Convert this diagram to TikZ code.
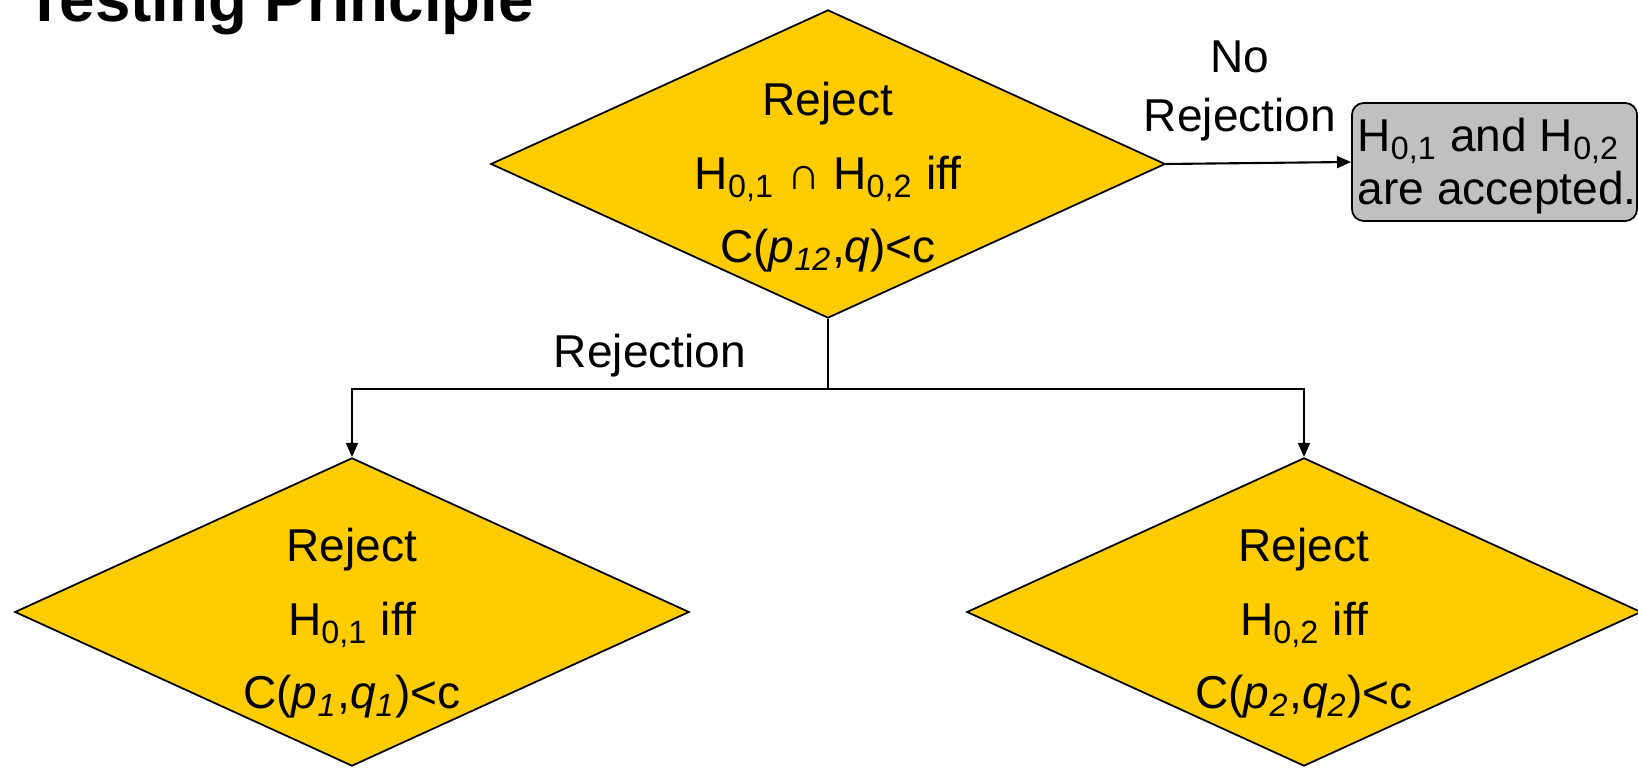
\documentclass[tikz,border=0pt]{standalone}
\usepackage{fontspec}
\setmainfont{Liberation Sans}
\usetikzlibrary{shapes.geometric,arrows.meta}
\definecolor{decisionfill}{HTML}{FFCC00}
\definecolor{resultfill}{HTML}{C0C0C0}
\begin{document}
\begin{tikzpicture}[x=0.01cm,y=-0.01cm,
  decision/.style={diamond, draw=black, line width=0.5pt, fill=decisionfill,
    minimum width=6.74cm, minimum height=3.08cm, inner sep=0pt},
  % multi-line nodes: the base anchor sits on the last line's baseline
  dtext/.style={align=center, anchor=base, inner sep=0pt,
    font=\fontsize{13.1pt}{20.9pt}\selectfont},
  lbl/.style={align=center, anchor=base, inner sep=0pt,
    font=\fontsize{13.1pt}{17pt}\selectfont},
  result/.style={draw=black, line width=0.5pt, fill=resultfill,
    rounded corners=3.4pt, minimum width=2.85cm, minimum height=1.18cm,
    inner sep=0pt},
  resulttext/.style={align=left, anchor=base west, inner sep=0pt,
    font=\fontsize{13.1pt}{15.1pt}\selectfont},
  conn/.style={draw=black, line width=0.6pt},
  tip/.style={-{Triangle[length=4pt,width=3.4pt]}}
]
\useasboundingbox (0,0) rectangle (1638,768);

% heading, partly cut by the page edge
\node[anchor=base west, inner sep=0pt,
  font=\bfseries\fontsize{18.1pt}{20pt}\selectfont] (title) at (25,22) {Testing Principle};

% decision diamonds
\node[decision] (top)   at (828,164) {};
\node[decision] (left)  at (352,612) {};
\node[decision] (right) at (1304,612) {};

\node[dtext] (toptext) at (828,263)
  {Reject\\H\textsubscript{0,1} ∩ H\textsubscript{0,2} iff\\C(\textit{p}\textsubscript{\textit{12}},\textit{q})<c};
\node[dtext] (lefttext) at (352,709)
  {Reject\\H\textsubscript{0,1} iff\\C(\textit{p}\textsubscript{\textit{1}},\textit{q}\textsubscript{\textit{1}})<c};
\node[dtext] (righttext) at (1304,709)
  {Reject\\H\textsubscript{0,2} iff\\C(\textit{p}\textsubscript{\textit{2}},\textit{q}\textsubscript{\textit{2}})<c};

% outcome box
\node[result] (accept) at (1494.5,162) {};
\node[resulttext] (accepttext) at (1357,205)
  {H\textsubscript{0,1} and H\textsubscript{0,2}\\are accepted.};

% connectors
\coordinate (split) at (828,389);
\draw[conn] (top.south) -- (split);
\draw[conn,tip] (split) -| (left.north);
\draw[conn,tip] (split) -| (right.north);
\draw[conn,tip] (top.east) -- (accept.west);

% branch labels
\node[lbl] (rejlabel) at (650,368) {Rejection};
\node[lbl] (norejlabel) at (1240,132) {No\\Rejection};
\end{tikzpicture}
\end{document}
